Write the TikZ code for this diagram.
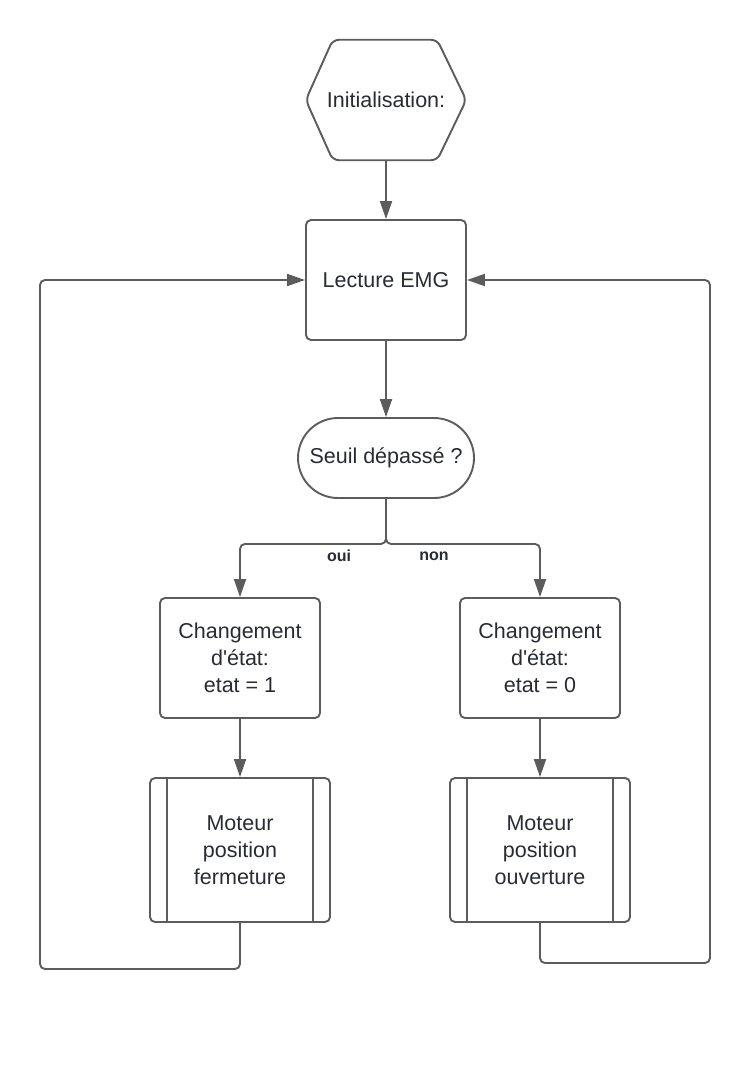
\documentclass[tikz,border=0pt]{standalone}
\usepackage{fontspec}
\setmainfont{Liberation Sans}
\usetikzlibrary{arrows.meta,shapes.misc}
\definecolor{linec}{HTML}{5C5C5C}
\definecolor{textc}{HTML}{282B31}
\begin{document}
\begin{tikzpicture}[x=1pt,y=-1pt,
  every node/.style={text=textc,font=\fontsize{21.5}{27}\selectfont,align=center,inner sep=0pt},
  shapeline/.style={draw=linec,line width=1.9pt},
  box/.style={shapeline,rectangle,rounded corners=5pt,minimum width=160pt,minimum height=120pt},
  subbox/.style={shapeline,rectangle,rounded corners=5pt,minimum width=180pt,minimum height=144pt},
  stadium/.style={shapeline,rounded rectangle,minimum width=176pt,minimum height=80pt},
  conn/.style={draw=linec,line width=1.9pt,rounded corners=5pt},
  arr/.style={conn,-{Triangle[length=18pt,width=12pt]}},
  lbl/.style={font=\fontsize{16}{18}\selectfont\bfseries}
]
\useasboundingbox (0,0) rectangle (750,1065);
% start hexagon
\node[minimum width=160pt,minimum height=120pt] (init) at (386,100) {Initialisation:};
\draw[shapeline,rounded corners=6pt] ([xshift=27pt]init.north west) -- ([xshift=-29pt]init.north east) -- (init.east) -- ([xshift=-29pt]init.south east) -- ([xshift=27pt]init.south west) -- (init.west) -- cycle;
\node[box] (lect) at (386,280) {Lecture EMG};
\node[stadium] (seuil) at (386,458) {Seuil dépassé ?};
\node[box] (e1) at (240,658) {Changement\\d\textquotesingle état:\\etat = 1};
\node[box] (e2) at (540,658) {Changement\\d\textquotesingle état:\\etat = 0};
\node[subbox] (m1) at (240,850) {Moteur\\position\\fermeture};
\node[subbox] (m2) at (540,850) {Moteur\\position\\ouverture};
\draw[shapeline] ([xshift=18pt]m1.north west) -- ([xshift=18pt]m1.south west);
\draw[shapeline] ([xshift=-18pt]m1.north east) -- ([xshift=-18pt]m1.south east);
\draw[shapeline] ([xshift=18pt]m2.north west) -- ([xshift=18pt]m2.south west);
\draw[shapeline] ([xshift=-18pt]m2.north east) -- ([xshift=-18pt]m2.south east);
\node[lbl] (oui) at (339,556) {oui};
\node[lbl] (non) at (434,556) {non};
\coordinate (lb) at (40,969);
\coordinate (rb) at (710,963);
% connectors
\draw[arr] (init.south) -- (lect.north);
\draw[arr] (lect.south) -- (seuil.north);
\draw[arr] (seuil.south) -- ++(0,45) -| (e1.north);
\draw[arr] (seuil.south) -- ++(0,45) -| (e2.north);
\draw[arr] (e1.south) -- (m1.north);
\draw[arr] (e2.south) -- (m2.north);
\draw[arr] (m1.south) |- (lb) |- (lect.west);
\draw[arr] (m2.south) |- (rb) |- (lect.east);
\end{tikzpicture}
\end{document}
